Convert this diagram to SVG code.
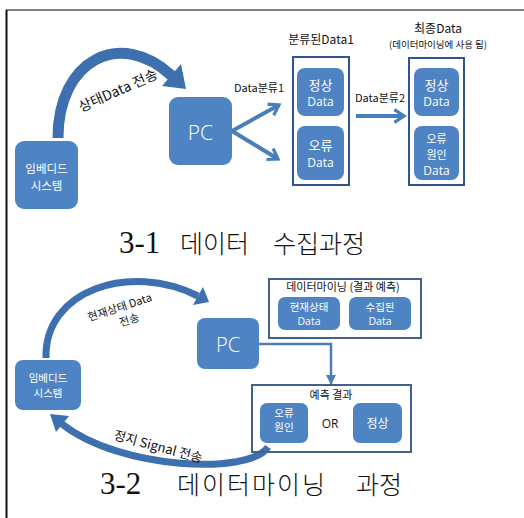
<svg xmlns="http://www.w3.org/2000/svg" width="524" height="518" viewBox="0 0 524 518">
<style>
.box{fill:#4f84c4}
.frame{fill:none;stroke:#2f5491;stroke-width:2}
.frame2{fill:none;stroke:#3f618c;stroke-width:2}
.wt{fill:#fff;font-family:"Noto Sans CJK KR","Noto Sans",sans-serif;text-anchor:middle}
.bt{fill:#111;font-family:"Noto Sans CJK KR","Noto Sans",sans-serif;text-anchor:middle}
.lat{font-family:"Open Sans","Noto Sans",sans-serif}
.pc{fill:#fff;font-family:"Open Sans","Noto Sans",sans-serif;text-anchor:middle;font-weight:300}
.title{fill:#111;font-family:"Liberation Serif","Noto Sans CJK KR",serif;font-size:25px;font-weight:300}
.num{font-size:31px}
.arc{fill:none;stroke:#3e6fae}
.arrowhead{fill:#3e6fae}
.conn{fill:none;stroke:#4a7ebb}
</style>
<defs>
<marker id="openArrow" viewBox="0 0 10 10" refX="7" refY="5" markerWidth="4" markerHeight="4" orient="auto" markerUnits="strokeWidth">
<polyline points="1,1 7,5 1,9" fill="none" stroke="#4a7ebb" stroke-width="2"/>
</marker>
<marker id="tri" viewBox="0 0 10 10" refX="9" refY="5" markerWidth="4" markerHeight="4" orient="auto" markerUnits="strokeWidth">
<path d="M0,0 L10,5 L0,10 Z" fill="#4a7ebb"/>
</marker>
</defs>
<rect width="524" height="518" fill="#fff"/>
<line x1="6" y1="10" x2="524" y2="10" stroke="#7f7f7f" stroke-width="2"/>
<line x1="6.5" y1="10" x2="6.5" y2="518" stroke="#111" stroke-width="2"/>

<g id="connectors">
<path class="arc" stroke-width="11" d="M58,138 C58,60 120,28 172,76"/>
<polygon class="arrowhead" points="186,89 162,86 181,64"/>
<path class="conn" stroke-width="4" marker-end="url(#openArrow)" d="M232,131 L279,105"/>
<path class="conn" stroke-width="4" marker-end="url(#openArrow)" d="M232,131 L278,159"/>
<path class="conn" stroke-width="4" marker-end="url(#openArrow)" d="M356,116 L404,116"/>
<path class="arc" stroke-width="7" d="M46,358 C44,290 130,262 198,296"/>
<polygon class="arrowhead" points="209,302 193,305 203,287"/>
<path class="conn" stroke-width="2.5" marker-end="url(#tri)" d="M259,344 L331,344 L331,384"/>
<path class="arc" stroke-width="7" d="M268,447 C250,475 120,470 62,424"/>
<polygon class="arrowhead" points="50,414 69,416 56,432"/>
</g>
<text class="bt" font-size="14" transform="translate(120,95) rotate(-24)">상태Data 전송</text>
<text class="bt" font-size="11" x="259" y="92">Data분류1</text>
<text class="bt" font-size="11" x="380" y="102">Data분류2</text>
<text class="bt" font-size="11" transform="translate(121,311) rotate(-18)"><tspan x="0" y="0">현재상태 Data</tspan><tspan x="5" y="15">전송</tspan></text>
<text class="bt" font-size="13" transform="translate(157,451) rotate(15)">정지 Signal 전송</text>

<g id="embedded1">
<rect class="box" x="15" y="141" width="63" height="68" rx="9"/>
<text class="wt" font-size="11.5"><tspan x="46.5" y="173">임베디드</tspan><tspan x="46.5" y="190">시스템</tspan></text>
</g>
<g id="pc1">
<rect class="box" x="169" y="97" width="63" height="68" rx="9"/>
<text class="pc" font-size="21" x="200.5" y="140">PC</text>
</g>
<g id="classified1">
<text class="bt" font-size="12" x="321" y="44">분류된Data1</text>
<rect class="frame" x="293" y="57" width="56" height="128"/>
<rect class="box" x="297" y="68" width="47" height="48" rx="8"/>
<text class="wt" font-size="13"><tspan x="320.5" y="90">정상</tspan><tspan x="320.5" y="106" font-size="12" class="lat">Data</tspan></text>
<rect class="box" x="297" y="126" width="47" height="54" rx="8"/>
<text class="wt" font-size="13"><tspan x="320.5" y="150">오류</tspan><tspan x="320.5" y="167" font-size="12" class="lat">Data</tspan></text>
</g>
<g id="final">
<text class="bt" font-size="12"><tspan x="438" y="33">최종Data</tspan><tspan x="438" y="48" font-size="9.5">(데이터마이닝에 사용 됨)</tspan></text>
<rect class="frame" x="409" y="58" width="55" height="127"/>
<rect class="box" x="414" y="68" width="45" height="48" rx="8"/>
<text class="wt" font-size="13"><tspan x="436.5" y="90">정상</tspan><tspan x="436.5" y="106" font-size="12" class="lat">Data</tspan></text>
<rect class="box" x="414" y="126" width="45" height="54" rx="8"/>
<text class="wt" font-size="11"><tspan x="436.5" y="143">오류</tspan><tspan x="436.5" y="159">원인</tspan><tspan x="436.5" y="175" font-size="12" class="lat">Data</tspan></text>
</g>
<text class="title" y="253"><tspan x="119" class="num">3-1</tspan><tspan x="180">데이터</tspan><tspan x="273">수집과정</tspan></text>

<g id="embedded2">
<rect class="box" x="15" y="360" width="66" height="50" rx="8"/>
<text class="wt" font-size="10.5"><tspan x="48" y="382">임베디드</tspan><tspan x="48" y="397">시스템</tspan></text>
</g>
<g id="pc2">
<rect class="box" x="197" y="318" width="62" height="51" rx="8"/>
<text class="pc" font-size="20" x="228" y="352">PC</text>
</g>
<g id="mining">
<rect class="frame2" x="269" y="279" width="152" height="59"/>
<text class="bt" font-size="11" x="343" y="291" fill="#333">데이터마이닝 (결과 예측)</text>
<rect class="box" x="278" y="297" width="62" height="33" rx="7"/>
<text class="wt" font-size="10.5"><tspan x="309" y="311">현재상태</tspan><tspan x="309" y="325" class="lat">Data</tspan></text>
<rect class="box" x="349" y="297" width="62" height="33" rx="7"/>
<text class="wt" font-size="10.5"><tspan x="380" y="311">수집된</tspan><tspan x="380" y="325" class="lat">Data</tspan></text>
</g>
<g id="result">
<rect class="frame2" x="252" y="385" width="159" height="67"/>
<text class="bt" font-size="11" x="331" y="399" fill="#333">예측 결과</text>
<rect class="box" x="260" y="403" width="48" height="40" rx="7"/>
<text class="wt" font-size="10.5"><tspan x="284" y="417">오류</tspan><tspan x="284" y="431">원인</tspan></text>
<text class="bt lat" font-size="12" x="330" y="428">OR</text>
<rect class="box" x="353" y="403" width="49" height="40" rx="7"/>
<text class="wt" font-size="12" x="377.5" y="428">정상</text>
</g>
<text class="title" y="494"><tspan x="100" class="num">3-2</tspan><tspan x="177" letter-spacing="2">데이터마이닝</tspan><tspan x="356">과정</tspan></text>
</svg>
